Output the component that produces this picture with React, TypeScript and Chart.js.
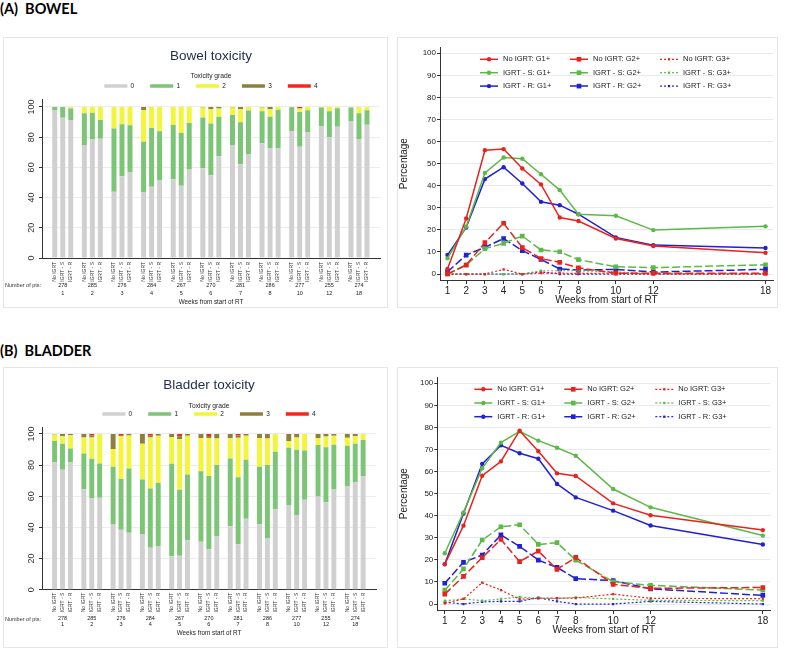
import React, { useEffect, useRef } from 'react';
import { Chart, registerables } from 'chart.js';

Chart.register(...registerables);

const FONT = '"Liberation Sans", Arial, sans-serif';
Chart.defaults.font.family = FONT;

// ---------- shared categories ----------
const weeks = [1, 2, 3, 4, 5, 6, 7, 8, 10, 12, 18];
const weekLabels = ['1', '2', '3', '4', '5', '6', '7', '8', '10', '12', '18'];
const bowelPts = ['278', '285', '276', '284', '267', '270', '281', '286', '277', '255', '274'];
const bladderPts = ['278', '285', '276', '284', '267', '270', '281', '286', '277', '255', '274'];
const arms = ['No IGRT', 'IGRT - S', 'IGRT - R'];
const grades = ['0', '1', '2', '3', '4'];
const gradeColors = ['#d0d0d0', '#7cc576', '#f2f53a', '#8e7f3e', '#f0281e'];
const lineGrades = ['G1+', 'G2+', 'G3+'];
const armColors = ['#e8231e', '#5cb946', '#2020d4'];
const yBarTicks = [0, 10, 20, 30, 40, 50, 60, 70, 80, 90, 100];
const yBarLabels = [0, 20, 40, 60, 80, 100];
const yLineTicks = [0, 10, 20, 30, 40, 50, 60, 70, 80, 90, 100];

// ---------- BOWEL: stacked bars, % by grade (rows = grade 0..4) ----------
const bowelNoIGRT = [
  [97.7, 74.8, 43.9, 43.4, 52.2, 59.4, 74.4, 76.0, 83.9, 87.3, 90.4],
  [2.3, 21.1, 41.9, 33.6, 35.8, 33.6, 20.3, 21.2, 15.7, 12.3, 9.2],
  [0, 4.1, 14.2, 20.9, 12.0, 6.6, 4.9, 2.5, 0, 0.4, 0.4],
  [0, 0, 0, 2.1, 0, 0.4, 0.4, 0.3, 0.4, 0, 0],
  [0, 0, 0, 0, 0, 0, 0, 0, 0, 0, 0],
];
const bowelIGRTS = [
  [92.9, 78.5, 54.2, 47.2, 47.8, 54.8, 62.0, 72.9, 73.6, 80.1, 78.4],
  [7.1, 17.5, 34.3, 38.9, 35.0, 34.3, 27.9, 20.6, 23.1, 17.0, 17.4],
  [0, 4.0, 11.5, 13.9, 17.2, 9.4, 8.6, 5.0, 2.3, 2.9, 4.2],
  [0, 0, 0, 0, 0, 1.5, 1.5, 1.5, 0, 0, 0],
  [0, 0, 0, 0, 0, 0, 0, 0, 1.0, 0, 0],
];
const bowelIGRTR = [
  [91.4, 78.9, 57.0, 51.6, 59.0, 67.3, 68.8, 72.9, 83.4, 86.9, 88.2],
  [7.6, 12.5, 30.9, 32.3, 30.4, 26.1, 28.9, 25.3, 14.5, 12.2, 9.7],
  [1.0, 8.6, 12.1, 16.1, 10.6, 5.6, 2.3, 1.8, 2.1, 0.9, 2.1],
  [0, 0, 0, 0, 0, 1.0, 0, 0, 0, 0, 0],
  [0, 0, 0, 0, 0, 0, 0, 0, 0, 0, 0],
];

// ---------- BOWEL: cumulative lines (rows = G1+, G2+, G3+) ----------
const bowelLineNoIGRT = [
  [2.3, 25.2, 56.1, 56.6, 47.8, 40.6, 25.6, 24.0, 16.1, 12.7, 9.6],
  [0, 4.1, 14.2, 23.0, 12.0, 7.0, 5.3, 2.8, 0.4, 0.4, 0.4],
  [0, 0, 0, 2.1, 0, 0.4, 0.4, 0.3, 0.4, 0, 0],
];
const bowelLineIGRTS = [
  [7.1, 21.5, 45.8, 52.8, 52.2, 45.2, 38.0, 27.1, 26.4, 19.9, 21.6],
  [0, 4.0, 11.5, 13.9, 17.2, 10.9, 10.1, 6.5, 3.3, 2.9, 4.2],
  [0, 0, 0, 0, 0, 1.5, 1.5, 1.5, 1.0, 0, 0],
];
const bowelLineIGRTR = [
  [8.6, 21.1, 43.0, 48.4, 41.0, 32.7, 31.2, 27.1, 16.6, 13.1, 11.8],
  [1.0, 8.6, 12.1, 16.1, 10.6, 6.6, 2.3, 1.8, 2.1, 0.9, 2.1],
  [0, 0, 0, 0, 0, 1.0, 0, 0, 0, 0, 0],
];

// ---------- BLADDER: stacked bars ----------
const bladderNoIGRT = [
  [81.9, 64.5, 41.9, 35.4, 21.5, 30.8, 40.8, 42.0, 54.4, 59.8, 66.5],
  [13.6, 23.0, 37.1, 35.3, 59.3, 45.2, 43.5, 36.9, 36.7, 33.1, 26.0],
  [4.2, 10.2, 11.3, 23.0, 17.0, 21.4, 13.0, 18.4, 4.4, 4.5, 5.1],
  [0.3, 2.3, 9.7, 6.3, 2.2, 2.6, 2.7, 2.7, 4.5, 2.6, 2.4],
  [0, 0, 0, 0, 0, 0, 0, 0, 0, 0, 0],
];
const bladderIGRTS = [
  [77.0, 58.5, 38.5, 26.9, 21.8, 26.0, 29.2, 32.8, 47.9, 56.2, 69.0],
  [16.7, 25.6, 32.5, 38.1, 42.3, 47.0, 43.0, 47.3, 42.0, 35.3, 24.7],
  [4.8, 13.6, 27.5, 32.7, 32.7, 24.4, 25.3, 16.9, 7.8, 6.8, 4.8],
  [1.5, 1.3, 0.8, 1.1, 1.7, 1.3, 1.5, 3.0, 2.3, 1.7, 1.5],
  [0, 1.0, 0.7, 1.2, 1.5, 1.3, 1.0, 0, 0, 0, 0],
];
const bladderIGRTR = [
  [82.0, 59.0, 36.5, 28.1, 31.7, 34.2, 45.6, 51.7, 57.7, 64.4, 73.0],
  [8.6, 22.1, 41.3, 40.6, 42.2, 45.9, 37.8, 36.8, 31.7, 28.7, 23.1],
  [8.6, 18.9, 21.2, 30.1, 24.9, 17.0, 15.4, 11.5, 10.6, 5.7, 3.9],
  [0.8, 0, 1.0, 1.2, 1.2, 2.9, 1.2, 0, 0, 1.2, 0],
  [0, 0, 0, 0, 0, 0, 0, 0, 0, 0, 0],
];

// ---------- BLADDER: cumulative lines ----------
const bladderLineNoIGRT = [
  [18.1, 35.5, 58.1, 64.6, 78.5, 69.2, 59.2, 58.0, 45.6, 40.2, 33.5],
  [4.5, 12.5, 21.0, 29.3, 19.2, 24.0, 15.7, 21.1, 8.9, 7.1, 7.5],
  [0.3, 2.3, 9.7, 6.3, 2.2, 2.6, 2.7, 2.7, 4.5, 2.6, 2.4],
];
const bladderLineIGRTS = [
  [23.0, 41.5, 61.5, 73.1, 78.2, 74.0, 70.8, 67.2, 52.1, 43.8, 31.0],
  [6.3, 15.9, 29.0, 35.0, 35.9, 27.0, 27.8, 19.9, 10.1, 8.5, 6.3],
  [1.5, 2.3, 1.5, 2.3, 3.2, 2.6, 2.5, 3.0, 2.3, 1.7, 1.5],
];
const bladderLineIGRTR = [
  [18.0, 41.0, 63.5, 71.9, 68.3, 65.8, 54.4, 48.3, 42.3, 35.6, 27.0],
  [9.4, 18.9, 22.2, 31.3, 26.1, 19.9, 16.6, 11.5, 10.6, 6.9, 3.9],
  [0.8, 0, 1.0, 1.2, 1.2, 2.9, 1.2, 0, 0, 1.2, 0],
];

// ---------- plugins ----------
const barExtras = {
  id: 'barExtras',
  afterDraw(chart: any, _args: any, opts: any) {
    const { ctx, chartArea } = chart;
    const ys = chart.scales.y;
    ctx.save();
    ctx.fillStyle = '#333';
    ctx.font = `9px ${FONT}`;
    ctx.textAlign = 'center';
    ctx.textBaseline = 'middle';
    yBarLabels.forEach((v) => {
      const y = ys.getPixelForValue(v);
      ctx.save();
      ctx.translate(chartArea.left - 10.5, y);
      ctx.rotate(-Math.PI / 2);
      ctx.fillText(String(v), 0, 0);
      ctx.restore();
    });
    ctx.font = `5px ${FONT}`;
    ctx.textAlign = 'right';
    arms.forEach((arm, a) => {
      const meta = chart.getDatasetMeta(a * grades.length);
      meta.data.forEach((el: any) => {
        ctx.save();
        ctx.translate(el.x, chartArea.bottom + opts.subTop);
        ctx.rotate(-Math.PI / 2);
        ctx.fillText(arm, 0, 0);
        ctx.restore();
      });
    });
    ctx.font = `5.5px ${FONT}`;
    ctx.textAlign = 'left';
    ctx.fillText('Number of pts:', 1, chartArea.bottom + opts.ptsY);
    ctx.restore();
  },
};

const lineLegend = {
  id: 'lineLegend',
  afterDatasetsDraw(chart: any, _args: any, opts: any) {
    const { ctx, chartArea } = chart;
    chart.data.datasets.forEach((ds: any, k: number) => {
      const row = Math.floor(k / 3);
      const col = k % 3;
      const x0 = chartArea.left + opts.cols[col];
      const y = chartArea.top + opts.top + row * opts.rowGap;
      ctx.save();
      ctx.strokeStyle = ds.borderColor;
      ctx.lineWidth = ds.borderWidth;
      ctx.setLineDash(ds.borderDash || []);
      ctx.beginPath();
      ctx.moveTo(x0, y);
      ctx.lineTo(x0 + 18, y);
      ctx.stroke();
      ctx.setLineDash([]);
      ctx.fillStyle = ds.borderColor;
      const r = ds.pointRadius;
      if (ds.pointStyle === 'rect') {
        const s = r * Math.SQRT1_2;
        ctx.fillRect(x0 + 9 - s, y - s, 2 * s, 2 * s);
      } else {
        ctx.beginPath();
        ctx.arc(x0 + 9, y, r, 0, Math.PI * 2);
        ctx.fill();
      }
      ctx.fillStyle = '#222';
      ctx.font = `7.5px ${FONT}`;
      ctx.textBaseline = 'middle';
      ctx.textAlign = 'left';
      ctx.fillText(ds.label, x0 + 23, y);
      ctx.restore();
    });
  },
};

// ---------- config builders ----------
function barConfig(title: string, armData: number[][][], pts: string[], p: any) {
  const datasets: any[] = [];
  arms.forEach((arm, a) => {
    grades.forEach((g, k) => {
      datasets.push({
        label: g,
        stack: arm,
        data: weekLabels.map((_, i) => ({ x: i + 1, y: armData[a][k][i] })),
        backgroundColor: gradeColors[k],
        borderWidth: 0,
        categoryPercentage: 0.81,
        barPercentage: 0.625,
      });
    });
  });
  return {
    type: 'bar',
    data: { datasets },
    options: {
      responsive: false,
      animation: false,
      devicePixelRatio: 1,
      events: [],
      layout: { padding: { top: 0, right: 7, bottom: p.padBottom, left: 0 } },
      plugins: {
        title: {
          display: true,
          fullSize: false,
          text: title,
          color: '#1f2c47',
          font: { size: 13.5, weight: 'normal', family: FONT },
          padding: { top: p.titleTop, bottom: 0 },
        },
        legend: {
          display: true,
          fullSize: false,
          position: 'top',
          labels: {
            boxWidth: 23,
            boxHeight: 3.5,
            padding: 16,
            color: '#222',
            font: { size: 6.5, family: FONT },
            filter: (item: any) => item.datasetIndex < grades.length,
          },
          title: {
            display: true,
            text: 'Toxicity grade',
            color: '#222',
            font: { size: 6.7, family: FONT },
            padding: { top: p.legendTitleTop, bottom: p.legendTitleBottom },
          },
        },
        tooltip: { enabled: false },
        barExtras: { subTop: p.subTop, ptsY: p.ptsY },
      },
      scales: {
        x: {
          type: 'linear',
          min: 0.3,
          max: 11.71,
          offset: false,
          stacked: true,
          afterBuildTicks: (s: any) => {
            s.ticks = weekLabels.map((_, i) => ({ value: i + 1 }));
          },
          afterFit: (s: any) => {
            s.height = p.xHeight;
          },
          ticks: {
            autoSkip: false,
            maxRotation: 0,
            minRotation: 0,
            padding: p.tickPad,
            color: '#222',
            font: { size: 5.5, family: FONT, lineHeight: p.tickLH },
            callback: (_v: any, i: number) => [pts[i], weekLabels[i]],
          },
          grid: { display: false, drawTicks: false, offset: false },
          border: { display: true, color: '#333', width: 1 },
          title: {
            display: true,
            text: 'Weeks from start of RT',
            color: '#222',
            font: { size: 6.3, family: FONT },
            padding: { top: 0, bottom: 0 },
          },
        },
        y: {
          min: 0,
          max: p.yMax,
          stacked: true,
          afterBuildTicks: (s: any) => {
            s.ticks = yBarTicks.map((v) => ({ value: v }));
          },
          afterFit: (s: any) => {
            s.width = 38;
          },
          ticks: { callback: () => '', padding: 0 },
          grid: {
            color: (c: any) =>
              c.tick && c.tick.value % 20 === 0 && c.tick.value > 0 ? '#ececec' : 'rgba(0,0,0,0)',
            tickColor: '#333',
            tickLength: 3,
          },
          border: { display: true, color: '#333', width: 1 },
        },
      },
    },
    plugins: [barExtras],
  };
}

function lineConfig(armLines: number[][][], p: any) {
  const datasets: any[] = [];
  arms.forEach((arm, a) => {
    lineGrades.forEach((g, k) => {
      datasets.push({
        label: `${arm}: ${g}`,
        data: weeks.map((w, i) => ({ x: w, y: armLines[a][k][i] })),
        borderColor: armColors[a],
        backgroundColor: armColors[a],
        pointBackgroundColor: armColors[a],
        pointBorderWidth: 0,
        borderWidth: k === 2 ? 1.2 : 1.5,
        borderDash: k === 0 ? [] : k === 1 ? [8, 3] : [2, 2],
        pointStyle: k === 0 ? 'circle' : 'rect',
        pointRadius: k === 0 ? 2.2 : k === 1 ? 3.3 : 1.6,
        tension: 0,
        fill: false,
      });
    });
  });
  return {
    type: 'line',
    data: { datasets },
    options: {
      responsive: false,
      animation: false,
      devicePixelRatio: 1,
      events: [],
      layout: { padding: { top: p.padTop, right: p.padRight, bottom: p.padBottom, left: 0 } },
      plugins: {
        legend: { display: false },
        tooltip: { enabled: false },
        lineLegend: { cols: p.cols, top: 12, rowGap: p.rowGap },
      },
      scales: {
        x: {
          type: 'linear',
          min: 0.6,
          max: 18.4,
          afterBuildTicks: (s: any) => {
            s.ticks = weeks.map((v) => ({ value: v }));
          },
          afterFit: (s: any) => {
            s.height = p.xHeight;
          },
          ticks: {
            autoSkip: false,
            maxRotation: 0,
            minRotation: 0,
            padding: 1.3,
            color: '#222',
            font: { size: 10, family: FONT },
            callback: (v: any) => String(v),
          },
          grid: { drawOnChartArea: false, tickLength: 4, tickColor: '#333' },
          border: { display: true, color: '#333', width: 1 },
          title: {
            display: true,
            text: 'Weeks from start of RT',
            color: '#222',
            font: { size: 10, family: FONT },
            padding: { top: 0, bottom: 0 },
          },
        },
        y: {
          min: -2.7,
          max: 102.7,
          afterBuildTicks: (s: any) => {
            s.ticks = yLineTicks.map((v) => ({ value: v }));
          },
          afterFit: (s: any) => {
            s.width = p.yWidth;
          },
          ticks: { padding: 1, color: '#222', font: { size: 8, family: FONT } },
          grid: { color: '#e8ebee', tickColor: '#333', tickLength: 3 },
          border: { display: true, color: '#333', width: 1 },
          title: {
            display: true,
            text: 'Percentage',
            color: '#222',
            font: { size: 10, family: FONT },
            padding: { top: p.yTitlePad, bottom: 0 },
          },
        },
      },
    },
    plugins: [lineLegend],
  };
}

// ---------- layouts ----------
const bowelBarLayout = {
  titleTop: 9.9, legendTitleTop: 8.55, legendTitleBottom: -13.94, yMax: 105.1,
  tickPad: 23, tickLH: 8 / 5.5, xHeight: 47.8, padBottom: 1.2, subTop: 4, ptsY: 27,
};
const bladderBarLayout = {
  titleTop: 8.9, legendTitleTop: 9.55, legendTitleBottom: -15.94, yMax: 104.3,
  tickPad: 26.5, tickLH: 1.0, xHeight: 47.1, padBottom: 10.2, subTop: 3, ptsY: 29.3,
};
const bowelLineLayout = {
  yWidth: 42, padTop: 9.3, padRight: 4, padBottom: 0.5, xHeight: 26.5, yTitlePad: 0,
  cols: [40, 130, 220], rowGap: 13.4,
};
const bladderLineLayout = {
  yWidth: 39.3, padTop: 9.3, padRight: 6.7, padBottom: 10.6, xHeight: 26.4, yTitlePad: 0,
  cols: [37, 127, 218], rowGap: 13.7,
};

function ChartPanel(props: { left: number; top: number; width: number; height: number; makeConfig: () => any }) {
  const { left, top, width, height, makeConfig } = props;
  const ref = useRef<HTMLCanvasElement>(null);
  useEffect(() => {
    const chart = new Chart(ref.current as HTMLCanvasElement, makeConfig());
    return () => chart.destroy();
  }, []);
  return (
    <div
      style={{
        position: 'absolute', left, top, width, height, boxSizing: 'border-box',
        border: '1px solid #e6e6e6', background: '#fff',
      }}
    >
      <canvas
        ref={ref}
        width={width - 2}
        height={height - 2}
        style={{ display: 'block', width: width - 2, height: height - 2 }}
      />
    </div>
  );
}

const headingStyle: React.CSSProperties = {
  position: 'absolute', left: 0, fontFamily: 'Lato, "Open Sans", sans-serif', fontWeight: 700,
  fontSize: 14.5, lineHeight: '17px', whiteSpace: 'pre', color: '#000',
};

export default function App() {
  return (
    <div
      style={{
        position: 'absolute', left: 0, top: 0, width: 787, height: 652,
        background: '#fff', overflow: 'hidden',
      }}
    >
      <div style={{ ...headingStyle, top: 0 }}>(A)  BOWEL</div>
      <ChartPanel left={3} top={37} width={385} height={271}
        makeConfig={() => barConfig('Bowel toxicity', [bowelNoIGRT, bowelIGRTS, bowelIGRTR], bowelPts, bowelBarLayout)} />
      <ChartPanel left={397} top={37} width={381} height={271}
        makeConfig={() => lineConfig([bowelLineNoIGRT, bowelLineIGRTS, bowelLineIGRTR], bowelLineLayout)} />
      <div style={{ ...headingStyle, top: 341.5 }}>(B)  BLADDER</div>
      <ChartPanel left={3} top={367} width={385} height={281}
        makeConfig={() => barConfig('Bladder toxicity', [bladderNoIGRT, bladderIGRTS, bladderIGRTR], bladderPts, bladderBarLayout)} />
      <ChartPanel left={397} top={367} width={381} height={281}
        makeConfig={() => lineConfig([bladderLineNoIGRT, bladderLineIGRTS, bladderLineIGRTR], bladderLineLayout)} />
    </div>
  );
}
